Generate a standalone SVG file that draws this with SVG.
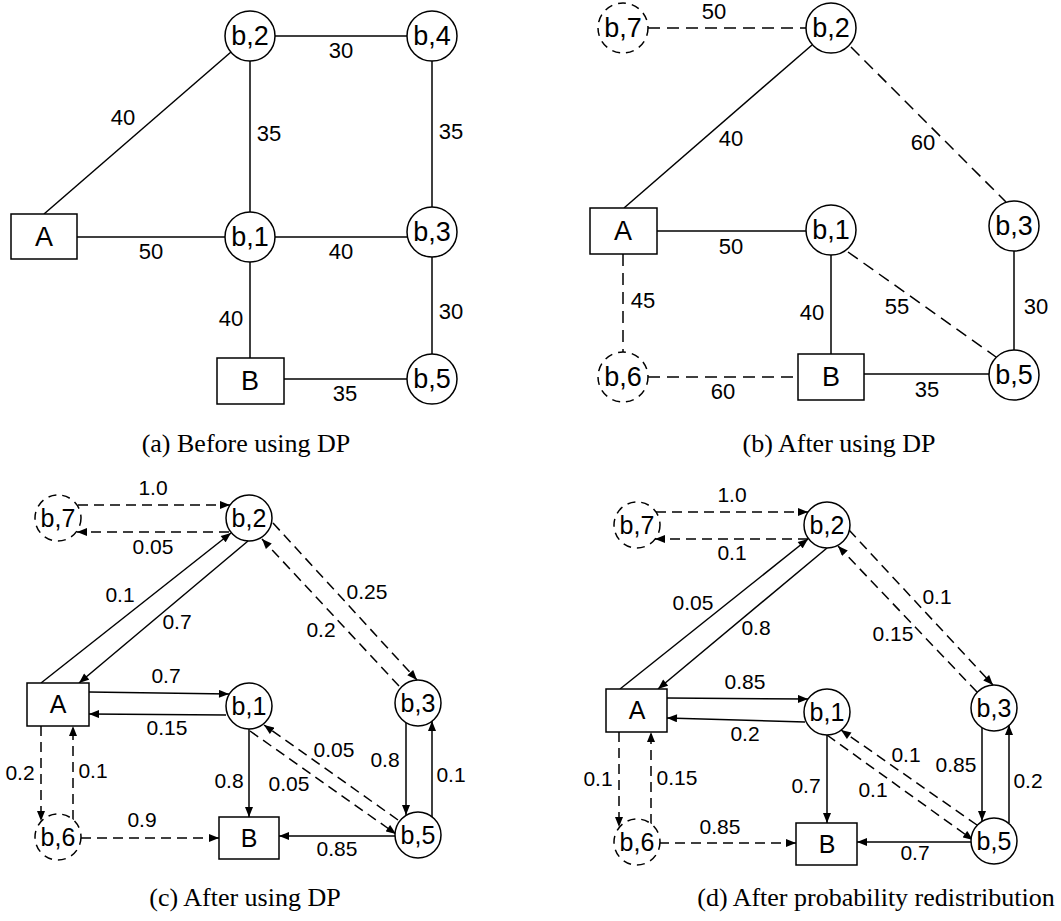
<svg xmlns="http://www.w3.org/2000/svg" width="1061" height="921" viewBox="0 0 1061 921">
<defs>
<style>
.n{fill:#fff;stroke:#000;stroke-width:1.5}
.nd{fill:#fff;stroke:#000;stroke-width:1.5;stroke-dasharray:8 6}
.e{fill:none;stroke:#000;stroke-width:1.5}
.ed{fill:none;stroke:#000;stroke-width:1.5;stroke-dasharray:12 7}
.ec{fill:none;stroke:#000;stroke-width:1.5;stroke-dasharray:10 6}
.a{marker-end:url(#ah)}
.t1{font-family:"Liberation Sans",Arial,sans-serif;font-size:27px;text-anchor:middle;dominant-baseline:central}
.t2{font-family:"Liberation Sans",Arial,sans-serif;font-size:25px;text-anchor:middle;dominant-baseline:central}
.l1{font-family:"Liberation Sans",Arial,sans-serif;font-size:22px;text-anchor:middle;dominant-baseline:central}
.l2{font-family:"Liberation Sans",Arial,sans-serif;font-size:21px;text-anchor:middle;dominant-baseline:central}
.cap{font-family:"Liberation Serif","Times New Roman",serif;font-size:26px;text-anchor:middle}
</style>
<marker id="ah" viewBox="0 0 10 8" refX="10" refY="4" markerWidth="11" markerHeight="8" orient="auto" markerUnits="userSpaceOnUse"><path d="M0,0 L10,4 L0,8 z" fill="#000"/></marker>
</defs>
<rect width="1061" height="921" fill="#fff"/>

<!-- Panel a connectors -->
<g id="edges-a">
<line class="e" x1="44" y1="214" x2="231" y2="52"/>
<line class="e" x1="275" y1="36" x2="407" y2="36"/>
<line class="e" x1="250" y1="61" x2="250" y2="212"/>
<line class="e" x1="432" y1="61" x2="432" y2="207"/>
<line class="e" x1="77" y1="237" x2="225" y2="237"/>
<line class="e" x1="275" y1="237" x2="408" y2="237"/>
<line class="e" x1="250" y1="262" x2="250" y2="358"/>
<line class="e" x1="432" y1="257" x2="432" y2="354"/>
<line class="e" x1="284" y1="379" x2="407" y2="379"/>
<g class="l1">
<text x="123" y="117">40</text><text x="341" y="50">30</text><text x="269" y="133">35</text><text x="451" y="131">35</text>
<text x="151" y="251">50</text><text x="341" y="251">40</text><text x="231" y="318">40</text><text x="451" y="311">30</text><text x="345" y="393">35</text>
</g>
</g>
<g id="a-A"><rect class="n" x="11" y="214" width="66" height="45"/><text class="t1" x="44" y="237">A</text></g>
<g id="a-b2"><circle class="n" cx="250" cy="36" r="25"/><text class="t1" x="250" y="36">b,2</text></g>
<g id="a-b4"><circle class="n" cx="432" cy="36" r="25"/><text class="t1" x="432" y="36">b,4</text></g>
<g id="a-b1"><circle class="n" cx="250" cy="237" r="25"/><text class="t1" x="250" y="237">b,1</text></g>
<g id="a-b3"><circle class="n" cx="432" cy="232" r="25"/><text class="t1" x="432" y="232">b,3</text></g>
<g id="a-b5"><circle class="n" cx="432" cy="379" r="25"/><text class="t1" x="432" y="379">b,5</text></g>
<g id="a-B"><rect class="n" x="217" y="358" width="67" height="46"/><text class="t1" x="250" y="381">B</text></g>
<text class="cap" x="246" y="452">(a) Before using DP</text>

<!-- Panel b connectors -->
<g id="edges-b">
<line class="ed" x1="648" y1="28" x2="806" y2="28"/>
<line class="e" x1="624" y1="208" x2="812" y2="45"/>
<line class="ed" x1="851" y1="47" x2="1006" y2="202"/>
<line class="e" x1="657" y1="231" x2="806" y2="231"/>
<line class="e" x1="831" y1="255" x2="831" y2="354"/>
<line class="ed" x1="848" y1="252" x2="996" y2="357"/>
<line class="e" x1="1014" y1="251" x2="1014" y2="350"/>
<line class="e" x1="864" y1="374" x2="989" y2="374"/>
<line class="ed" x1="623" y1="254" x2="623" y2="352"/>
<line class="ed" x1="648" y1="377" x2="798" y2="377"/>
<g class="l1">
<text x="714" y="11">50</text><text x="731" y="138">40</text><text x="923" y="142">60</text><text x="731" y="246">50</text>
<text x="812" y="312">40</text><text x="897" y="306">55</text><text x="1036" y="306">30</text><text x="927" y="389">35</text>
<text x="643" y="300">45</text><text x="723" y="391">60</text>
</g>
</g>
<g id="b-b7"><circle class="nd" cx="623" cy="28" r="25"/><text class="t1" x="623" y="28">b,7</text></g>
<g id="b-b2"><circle class="n" cx="831" cy="28" r="25"/><text class="t1" x="831" y="28">b,2</text></g>
<g id="b-A"><rect class="n" x="590" y="208" width="67" height="46"/><text class="t1" x="623" y="231">A</text></g>
<g id="b-b1"><circle class="n" cx="831" cy="230" r="25"/><text class="t1" x="831" y="230">b,1</text></g>
<g id="b-b3"><circle class="n" cx="1014" cy="226" r="25"/><text class="t1" x="1014" y="226">b,3</text></g>
<g id="b-B"><rect class="n" x="798" y="354" width="66" height="46"/><text class="t1" x="831" y="377">B</text></g>
<g id="b-b5"><circle class="n" cx="1014" cy="375" r="25"/><text class="t1" x="1014" y="375">b,5</text></g>
<g id="b-b6"><circle class="nd" cx="623" cy="377" r="25"/><text class="t1" x="623" y="377">b,6</text></g>
<text class="cap" x="839" y="452">(b) After using DP</text>

<!-- Panel c connectors -->
<g id="edges-c">
<line class="ec a" x1="78" y1="505" x2="230" y2="505"/>
<line class="ec a" x1="229" y1="532" x2="77" y2="532"/>
<line class="e a" x1="41" y1="683" x2="231" y2="533"/>
<line class="e a" x1="248" y1="541" x2="79" y2="683"/>
<line class="ec a" x1="273" y1="523" x2="417" y2="680"/>
<line class="ec a" x1="399" y1="686" x2="262" y2="539"/>
<line class="e a" x1="89" y1="692" x2="229" y2="694"/>
<line class="e a" x1="226" y1="715" x2="89" y2="714"/>
<line class="e a" x1="249" y1="729" x2="249" y2="817"/>
<line class="ec a" x1="250" y1="731" x2="396" y2="834"/>
<line class="ec a" x1="398" y1="820" x2="264" y2="725"/>
<line class="e a" x1="406" y1="723" x2="406" y2="815"/>
<line class="e a" x1="432" y1="817" x2="432" y2="721"/>
<line class="e a" x1="395" y1="836" x2="279" y2="836"/>
<line class="ec a" x1="41" y1="726" x2="41" y2="821"/>
<line class="ec a" x1="73" y1="820" x2="73" y2="726"/>
<line class="ec a" x1="81" y1="838" x2="219" y2="838"/>
<g class="l2">
<text x="153" y="487">1.0</text><text x="153" y="546">0.05</text><text x="120" y="594">0.1</text><text x="177" y="621">0.7</text>
<text x="367" y="591">0.25</text><text x="321" y="629">0.2</text><text x="166" y="675">0.7</text><text x="167" y="727">0.15</text>
<text x="229" y="780">0.8</text><text x="289" y="783">0.05</text><text x="334" y="749">0.05</text><text x="385" y="759">0.8</text>
<text x="451" y="774">0.1</text><text x="337" y="848">0.85</text><text x="20" y="772">0.2</text><text x="93" y="770">0.1</text><text x="142" y="819">0.9</text>
</g>
</g>
<g id="c-b7"><circle class="nd" cx="58" cy="518" r="23"/><text class="t2" x="58" y="518">b,7</text></g>
<g id="c-b2"><circle class="n" cx="249" cy="518" r="23"/><text class="t2" x="249" y="518">b,2</text></g>
<g id="c-A"><rect class="n" x="27" y="683" width="62" height="43"/><text class="t2" x="58" y="704">A</text></g>
<g id="c-b1"><circle class="n" cx="249" cy="706" r="23"/><text class="t2" x="249" y="706">b,1</text></g>
<g id="c-b3"><circle class="n" cx="418" cy="703" r="23"/><text class="t2" x="418" y="703">b,3</text></g>
<g id="c-B"><rect class="n" x="219" y="817" width="60" height="42"/><text class="t2" x="249" y="838">B</text></g>
<g id="c-b5"><circle class="n" cx="418" cy="835" r="23"/><text class="t2" x="418" y="835">b,5</text></g>
<g id="c-b6"><circle class="nd" cx="58" cy="837" r="23"/><text class="t2" x="58" y="837">b,6</text></g>
<text class="cap" x="245" y="906">(c) After using DP</text>

<!-- Panel d connectors -->
<g id="edges-d">
<line class="ec a" x1="656" y1="512" x2="808" y2="512"/>
<line class="ec a" x1="808" y1="539" x2="655" y2="539"/>
<line class="e a" x1="620" y1="689" x2="808" y2="539"/>
<line class="e a" x1="827" y1="548" x2="658" y2="689"/>
<line class="ec a" x1="849" y1="530" x2="993" y2="685"/>
<line class="ec a" x1="977" y1="692" x2="838" y2="546"/>
<line class="e a" x1="667" y1="698" x2="808" y2="699"/>
<line class="e a" x1="805" y1="722" x2="667" y2="718"/>
<line class="e a" x1="827" y1="735" x2="827" y2="823"/>
<line class="ec a" x1="827" y1="735" x2="973" y2="840"/>
<line class="ec a" x1="977" y1="825" x2="841" y2="730"/>
<line class="e a" x1="982" y1="728" x2="982" y2="821"/>
<line class="e a" x1="1009" y1="823" x2="1009" y2="725"/>
<line class="e a" x1="971" y1="842" x2="857" y2="842"/>
<line class="ec a" x1="619" y1="732" x2="619" y2="827"/>
<line class="ec a" x1="651" y1="824" x2="651" y2="732"/>
<line class="ec a" x1="659" y1="843" x2="796" y2="843"/>
<g class="l2">
<text x="732" y="494">1.0</text><text x="732" y="552">0.1</text><text x="693" y="602">0.05</text><text x="756" y="627">0.8</text>
<text x="937" y="596">0.1</text><text x="893" y="633">0.15</text><text x="745" y="681">0.85</text><text x="745" y="733">0.2</text>
<text x="806" y="785">0.7</text><text x="873" y="789">0.1</text><text x="906" y="754">0.1</text><text x="956" y="764">0.85</text>
<text x="1028" y="780">0.2</text><text x="915" y="852">0.7</text><text x="598" y="778">0.1</text><text x="677" y="777">0.15</text><text x="720" y="826">0.85</text>
</g>
</g>
<g id="d-b7"><circle class="nd" cx="637" cy="525" r="23"/><text class="t2" x="637" y="525">b,7</text></g>
<g id="d-b2"><circle class="n" cx="827" cy="525" r="23"/><text class="t2" x="827" y="525">b,2</text></g>
<g id="d-A"><rect class="n" x="606" y="689" width="61" height="43"/><text class="t2" x="637" y="710">A</text></g>
<g id="d-b1"><circle class="n" cx="827" cy="712" r="23"/><text class="t2" x="827" y="712">b,1</text></g>
<g id="d-b3"><circle class="n" cx="994" cy="708" r="23"/><text class="t2" x="994" y="708">b,3</text></g>
<g id="d-B"><rect class="n" x="796" y="823" width="61" height="42"/><text class="t2" x="827" y="844">B</text></g>
<g id="d-b5"><circle class="n" cx="994" cy="841" r="23"/><text class="t2" x="994" y="841">b,5</text></g>
<g id="d-b6"><circle class="nd" cx="637" cy="842" r="23"/><text class="t2" x="637" y="842">b,6</text></g>
<text class="cap" x="876" y="906">(d) After probability redistribution</text>
</svg>
